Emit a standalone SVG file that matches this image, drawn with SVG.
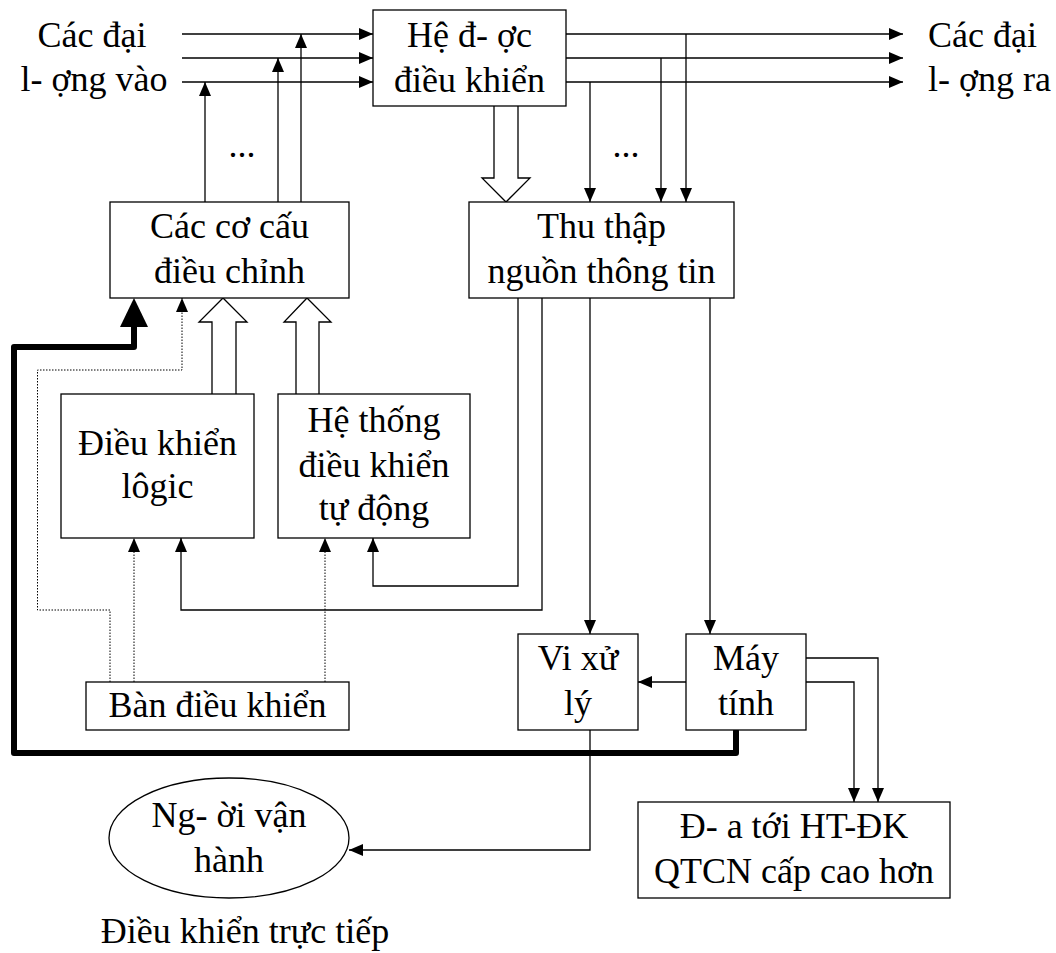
<svg xmlns="http://www.w3.org/2000/svg" width="1056" height="953" viewBox="0 0 1056 953">
<style>
text{font-family:"Liberation Serif","Times New Roman",serif;font-size:36px;fill:#000}
.m{text-anchor:middle}
.box{fill:#fff;stroke:#000;stroke-width:1.3}
.ln{fill:none;stroke:#000;stroke-width:1.3}
.dot{fill:none;stroke:#000;stroke-width:1;stroke-dasharray:1.5 1.5}
.hol{fill:#fff;stroke:#000;stroke-width:1.3}
.thick{fill:none;stroke:#000;stroke-width:6;stroke-linejoin:round;stroke-linecap:round}
</style>
<defs>
<marker id="ah" viewBox="0 0 14 12" refX="14" refY="6" markerWidth="14" markerHeight="12" markerUnits="userSpaceOnUse" orient="auto"><path d="M0,0 L14,6 L0,12 z" fill="#000"/></marker>
</defs>
<rect width="1056" height="953" fill="#fff"/>
<g id="connectors">
<path class="ln" d="M182,34 H373" marker-end="url(#ah)"/>
<path class="ln" d="M182,58 H373" marker-end="url(#ah)"/>
<path class="ln" d="M182,82 H373" marker-end="url(#ah)"/>
<path class="ln" d="M205,202 V82" marker-end="url(#ah)"/>
<path class="ln" d="M278,202 V58" marker-end="url(#ah)"/>
<path class="ln" d="M301,202 V34" marker-end="url(#ah)"/>
<path class="ln" d="M566,34 H903" marker-end="url(#ah)"/>
<path class="ln" d="M566,58 H903" marker-end="url(#ah)"/>
<path class="ln" d="M566,82 H903" marker-end="url(#ah)"/>
<path class="ln" d="M686,34 V202" marker-end="url(#ah)"/>
<path class="ln" d="M661,58 V202" marker-end="url(#ah)"/>
<path class="ln" d="M590,82 V202" marker-end="url(#ah)"/>
<path class="hol" d="M494,106 V178 H482 L506,202 L530,178 H518 V106"/>
<path class="hol" d="M212,394 V322 H199 L223,298 L247,322 H236 V394"/>
<path class="hol" d="M296,394 V322 H284 L307,298 L331,322 H319 V394"/>
<path class="ln" d="M518,298 V586 H373 V538" marker-end="url(#ah)"/>
<path class="ln" d="M542,298 V610 H181 V538" marker-end="url(#ah)"/>
<path class="ln" d="M590,298 V634" marker-end="url(#ah)"/>
<path class="ln" d="M710,298 V634" marker-end="url(#ah)"/>
<path class="ln" d="M686,682 H638" marker-end="url(#ah)"/>
<path class="ln" d="M806,658 H878 V802" marker-end="url(#ah)"/>
<path class="ln" d="M806,682 H854 V802" marker-end="url(#ah)"/>
<path class="ln" d="M590,730 V850 H349" marker-end="url(#ah)"/>
<path class="dot" d="M134,682 V538" marker-end="url(#ah)"/>
<path class="dot" d="M325,682 V538" marker-end="url(#ah)"/>
<path class="dot" d="M110,682 V610 H37.5 V370 H182 V298" marker-end="url(#ah)"/>
<path class="thick" d="M736,731 V753 H14 V347 H134 V322"/>
<polygon points="120,327 134,298 148,327" fill="#000"/>
<text x="242" y="157" class="m">...</text>
<text x="626" y="157" class="m">...</text>
</g>
<g id="input-label"><text x="92" y="47" class="m">Các đại</text><text x="94" y="91" class="m">l- ợng vào</text></g>
<g id="output-label"><text x="928" y="47">Các đại</text><text x="928" y="91">l- ợng ra</text></g>
<g id="he-dieu-khien"><rect class="box" x="373" y="10" width="193" height="96"/><text x="469.5" y="47" class="m">Hệ đ- ợc</text><text x="469.5" y="92" class="m">điều khiển</text></g>
<g id="co-cau"><rect class="box" x="110" y="202" width="239" height="96"/><text x="229.5" y="238" class="m">Các cơ cấu</text><text x="229.5" y="283" class="m">điều chỉnh</text></g>
<g id="thu-thap"><rect class="box" x="469" y="202" width="265" height="96"/><text x="601.5" y="238" class="m">Thu thập</text><text x="601.5" y="283" class="m">nguồn thông tin</text></g>
<g id="logic"><rect class="box" x="61" y="394" width="193" height="144"/><text x="157.5" y="455" class="m">Điều khiển</text><text x="157.5" y="498" class="m">lôgic</text></g>
<g id="he-thong"><rect class="box" x="278" y="394" width="192" height="144"/><text x="374" y="432" class="m">Hệ thống</text><text x="374" y="477" class="m">điều khiển</text><text x="374" y="520" class="m">tự động</text></g>
<g id="ban-dieu-khien"><rect class="box" x="86" y="682" width="263" height="48"/><text x="217.5" y="717" class="m">Bàn điều khiển</text></g>
<g id="vi-xu-ly"><rect class="box" x="518" y="634" width="120" height="96"/><text x="578" y="670" class="m">Vi xử</text><text x="578" y="715" class="m">lý</text></g>
<g id="may-tinh"><rect class="box" x="686" y="634" width="120" height="96"/><text x="746" y="670" class="m">Máy</text><text x="746" y="715" class="m">tính</text></g>
<g id="dua-toi"><rect class="box" x="638" y="802" width="312" height="96"/><text x="794" y="838" class="m">Đ- a tới HT-ĐK</text><text x="794" y="883" class="m">QTCN cấp cao hơn</text></g>
<g id="nguoi-van-hanh"><ellipse class="box" cx="229" cy="838" rx="120" ry="60"/><text x="229" y="827" class="m">Ng- ời vận</text><text x="229" y="872" class="m">hành</text></g>
<g id="caption"><text x="245" y="943" class="m">Điều khiển trực tiếp</text></g>
</svg>
